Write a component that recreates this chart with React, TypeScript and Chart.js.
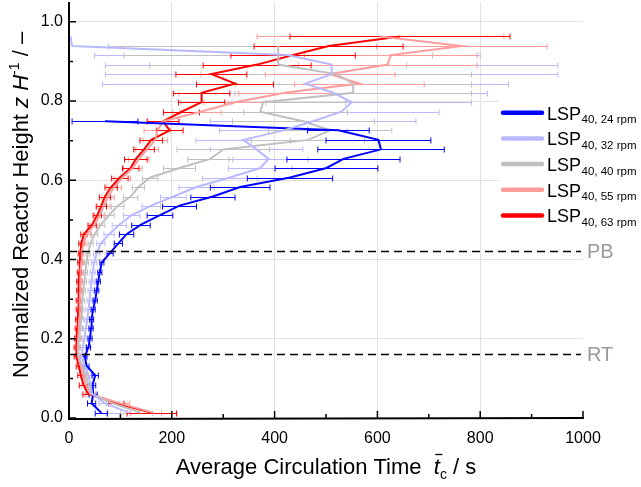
import React, { useEffect, useRef } from 'react';
import { Chart, registerables } from 'chart.js';

Chart.register(...registerables);

const FONT = "'Liberation Sans', Arial, Helvetica, sans-serif";

// Normalized reactor height bins (z H^-1)
const HEIGHTS = [
  0.013, 0.037, 0.061, 0.084, 0.108, 0.132, 0.156, 0.179, 0.203, 0.227,
  0.251, 0.274, 0.298, 0.322, 0.346, 0.369, 0.393, 0.417, 0.441, 0.464,
  0.488, 0.512, 0.536, 0.559, 0.583, 0.607, 0.631, 0.654, 0.678, 0.702,
  0.726, 0.749, 0.773, 0.797, 0.821, 0.844, 0.868, 0.892, 0.916, 0.939, 0.963,
];

const SERIES_SUBSCRIPTS = ['40, 24 rpm', '40, 32 rpm', '40, 40 rpm', '40, 55 rpm', '40, 63 rpm'];

// Average circulation time [s] and error (half width) per height bin
const TIME_24 = [63, 44, 47, 46, 51, 34, 31, 38, 41, 43, 44, 47, 51, 54, 57, 60, 64, 80, 96, 112, 140, 177, 215, 280, 333, 430, 501, 534, 607, 602, 524, 70];
const ERR_24 = [12, 8, 8, 6, 6, 5, 4, 4, 4, 4, 4, 4, 4, 4, 4, 4, 4, 6, 8, 14, 18, 25, 33, 43, 58, 83, 100, 110, 123, 102, 60, 64];

const TIME_32 = [118, 70, 45, 42, 38, 30, 25, 27, 30, 33, 36, 38, 40, 42, 44, 46, 49, 54, 62, 78, 98, 122, 160, 203, 248, 313, 372, 388, 365, 339, 417, 475, 530, 550, 514, 460, 511, 511, 425, 6, 3];
const ERR_32 = [45, 12, 6, 6, 6, 6, 5, 5, 5, 5, 5, 5, 5, 5, 5, 5, 5, 6, 8, 10, 14, 16, 18, 25, 34, 53, 62, 77, 90, 92, 124, 200, 190, 233, 300, 395, 440, 440, 375, 0, 0];

const TIME_40 = [140, 85, 43, 38, 32, 26, 18, 18, 20, 22, 24, 25, 26, 28, 30, 32, 34, 37, 42, 50, 62, 78, 95, 120, 135, 158, 215, 275, 300, 465, 508, 456, 372, 378, 553, 553, 520, 407, 407, 407];
const ERR_40 = [40, 12, 8, 6, 5, 5, 4, 4, 4, 4, 4, 4, 4, 4, 4, 4, 4, 4, 5, 6, 8, 10, 12, 14, 12, 15, 31, 44, 90, 110, 120, 138, 170, 160, 230, 230, 263, 250, 300, 330];

const TIME_55 = [165, 100, 42, 33, 28, 23, 18, 17, 18, 19, 20, 21, 21, 22, 22, 23, 24, 25, 28, 35, 50, 60, 68, 76, 88, 104, 124, 136, 152, 168, 172, 183, 256, 323, 420, 565, 508, 620, 626, 764, 606];
const ERR_55 = [45, 18, 10, 8, 6, 5, 4, 4, 4, 4, 4, 4, 4, 4, 4, 4, 4, 4, 5, 7, 9, 10, 12, 12, 14, 16, 18, 20, 22, 24, 26, 30, 40, 60, 90, 126, 126, 174, 168, 166, 240];

const TIME_63 = [161, 92, 37, 28, 23, 19, 14, 14, 15, 16, 17, 18, 18, 19, 19, 20, 21, 22, 24, 29, 45, 55, 63, 70, 82, 99, 120, 130, 146, 160, 196, 183, 219, 258, 258, 323, 277, 366, 436, 505, 644];
const ERR_63 = [48, 15, 10, 8, 6, 5, 4, 4, 4, 4, 4, 4, 4, 4, 4, 4, 4, 4, 5, 6, 8, 8, 10, 11, 12, 16, 16, 22, 20, 22, 26, 31, 35, 45, 55, 75, 69, 105, 121, 145, 214];

const PB_LEVEL = 0.42;
const RT_LEVEL = 0.16;

const COLORS = ['#0000ff', '#b9b9ff', '#c0c0c0', '#ff9c9c', '#ff0000'];
const DRAW_ORDER = [1, 0, 2, 3, 4];

function toPoints(times: number[], errs: number[]) {
  return times.map((t, i) => ({ x: t, y: HEIGHTS[i], e: errs[i] }));
}

const errorBarPlugin = {
  id: 'errorBars',
  beforeDatasetsDraw(chart: any) {
    const { ctx, chartArea, scales } = chart;
    const xs = scales.x;
    const ys = scales.y;
    ctx.save();
    ctx.beginPath();
    ctx.rect(chartArea.left, chartArea.top, chartArea.right - chartArea.left, chartArea.bottom - chartArea.top);
    ctx.clip();
    const order = [1, 2, 3, 0, 4];
    for (const di of order) {
      const ds = chart.data.datasets[di];
      ctx.strokeStyle = ds.borderColor;
      ctx.lineWidth = 1;
      for (const p of ds.data) {
        if (!p.e) continue;
        const x0 = xs.getPixelForValue(p.x - p.e);
        const x1 = xs.getPixelForValue(p.x + p.e);
        const py = Math.round(ys.getPixelForValue(p.y)) + 0.5;
        ctx.beginPath();
        ctx.moveTo(x0, py);
        ctx.lineTo(x1, py);
        ctx.moveTo(x0, py - 3);
        ctx.lineTo(x0, py + 3);
        ctx.moveTo(x1, py - 3);
        ctx.lineTo(x1, py + 3);
        ctx.stroke();
      }
    }
    ctx.restore();
  },
};

type Run = { t: string; font: string; dy?: number; over?: boolean };

function drawRuns(ctx: CanvasRenderingContext2D, runs: Run[], cx: number, baseline: number) {
  let w = 0;
  for (const r of runs) {
    ctx.font = r.font;
    w += ctx.measureText(r.t).width;
  }
  let x = cx - w / 2;
  ctx.textAlign = 'left';
  ctx.textBaseline = 'alphabetic';
  for (const r of runs) {
    ctx.font = r.font;
    ctx.fillText(r.t, x, baseline + (r.dy || 0));
    const rw = ctx.measureText(r.t).width;
    if (r.over) {
      ctx.save();
      ctx.lineWidth = 1.3;
      ctx.strokeStyle = '#000';
      ctx.beginPath();
      ctx.moveTo(x + 1.5, baseline - 19.5);
      ctx.lineTo(x + rw + 2.5, baseline - 19.5);
      ctx.stroke();
      ctx.restore();
    }
    x += rw;
  }
}

const decorPlugin = {
  id: 'decor',
  afterDatasetsDraw(chart: any) {
    const { ctx, chartArea, scales } = chart;
    const ys = scales.y;
    ctx.save();
    ctx.strokeStyle = '#000';
    ctx.lineWidth = 1.5;
    ctx.setLineDash([8, 5]);
    for (const lv of [PB_LEVEL, RT_LEVEL]) {
      const py = ys.getPixelForValue(lv);
      ctx.beginPath();
      ctx.moveTo(chartArea.left, py);
      ctx.lineTo(chartArea.right - 2, py);
      ctx.stroke();
    }
    ctx.setLineDash([]);
    ctx.fillStyle = '#999999';
    ctx.font = `20px ${FONT}`;
    ctx.textAlign = 'left';
    ctx.textBaseline = 'middle';
    ctx.fillText('PB', chartArea.right + 4, ys.getPixelForValue(PB_LEVEL) + 1);
    ctx.fillText('RT', chartArea.right + 4, ys.getPixelForValue(RT_LEVEL) + 1);
    ctx.restore();
  },
  afterDraw(chart: any) {
    const { ctx, chartArea, scales } = chart;
    const xs = scales.x;
    const ys = scales.y;
    ctx.save();
    // axes
    ctx.strokeStyle = '#000';
    ctx.lineWidth = 2;
    ctx.beginPath();
    ctx.moveTo(chartArea.left, chartArea.top);
    ctx.lineTo(chartArea.left, chartArea.bottom + 1);
    ctx.lineTo(chartArea.right + 1, chartArea.bottom);
    ctx.stroke();
    // inward ticks
    ctx.lineWidth = 1.5;
    ctx.beginPath();
    for (let i = 0; i <= 10; i++) {
      const v = i * 100;
      const px = xs.getPixelForValue(v);
      const len = i % 2 === 0 ? 7 : 4;
      ctx.moveTo(px, chartArea.bottom);
      ctx.lineTo(px, chartArea.bottom - len);
    }
    for (let i = 0; i <= 10; i++) {
      const v = i / 10;
      const py = ys.getPixelForValue(v);
      const len = i % 2 === 0 ? 7 : 4;
      ctx.moveTo(chartArea.left, py);
      ctx.lineTo(chartArea.left + len, py);
    }
    ctx.stroke();

    // legend
    ctx.fillStyle = '#ffffff';
    ctx.fillRect(499, 98, chartArea.right - 499 + 2, 130);
    for (let i = 0; i < 5; i++) {
      const yc = 112.7 + i * 25.7;
      ctx.strokeStyle = COLORS[i];
      ctx.lineWidth = 4.5;
      ctx.lineCap = 'round';
      ctx.beginPath();
      ctx.moveTo(503, yc);
      ctx.lineTo(542, yc);
      ctx.stroke();
      ctx.fillStyle = '#000';
      ctx.textAlign = 'left';
      ctx.textBaseline = 'alphabetic';
      ctx.font = `18px ${FONT}`;
      ctx.fillText('LSP', 547, yc + 6.8);
      const w = ctx.measureText('LSP').width;
      ctx.font = `11.5px ${FONT}`;
      ctx.fillText(SERIES_SUBSCRIPTS[i], 547 + w + 0.5, yc + 10.5);
    }
    ctx.lineCap = 'butt';

    // axis titles
    ctx.fillStyle = '#000';
    drawRuns(ctx, [
      { t: 'Average Circulation Time  ', font: `22px ${FONT}` },
      { t: 't', font: `italic 22px ${FONT}`, over: true },
      { t: 'c', font: `14px ${FONT}`, dy: 5 },
      { t: ' / s', font: `22px ${FONT}` },
    ], (chartArea.left + chartArea.right) / 2, 474);

    ctx.save();
    ctx.translate(28, 205);
    ctx.rotate(-Math.PI / 2);
    drawRuns(ctx, [
      { t: 'Normalized Reactor Height ', font: `22px ${FONT}` },
      { t: 'z', font: `italic 22px ${FONT}` },
      { t: ' ', font: `22px ${FONT}` },
      { t: 'H', font: `italic 22px ${FONT}` },
      { t: '-1', font: `14px ${FONT}`, dy: -9 },
      { t: ' / \u2013', font: `22px ${FONT}` },
    ], 0, 0);
    ctx.restore();
    ctx.restore();
  },
};

export default function App() {
  const ref = useRef<HTMLCanvasElement | null>(null);

  useEffect(() => {
    if (!ref.current) return;
    const series = [
      [TIME_24, ERR_24],
      [TIME_32, ERR_32],
      [TIME_40, ERR_40],
      [TIME_55, ERR_55],
      [TIME_63, ERR_63],
    ];
    const datasets = series.map(([t, e], i) => ({
      label: 'LSP' + SERIES_SUBSCRIPTS[i],
      data: toPoints(t as number[], e as number[]),
      borderColor: COLORS[i],
      backgroundColor: COLORS[i],
      borderWidth: 2,
      pointRadius: 0,
      pointHoverRadius: 0,
      showLine: true,
      tension: 0,
      fill: false,
      order: DRAW_ORDER[i],
    }));

    const chart = new Chart(ref.current, {
      type: 'scatter',
      data: { datasets } as any,
      plugins: [errorBarPlugin, decorPlugin],
      options: {
        animation: false,
        responsive: true,
        maintainAspectRatio: false,
        events: [],
        layout: { padding: { left: 0, right: 58, top: 2, bottom: 0 } },
        plugins: {
          legend: { display: false },
          tooltip: { enabled: false },
          title: { display: false },
        },
        scales: {
          x: {
            type: 'linear',
            min: 0,
            max: 1000,
            afterFit: (axis: any) => {
              axis.height = 69;
              axis.paddingLeft = 0;
              axis.paddingRight = 0;
            },
            border: { display: false },
            grid: {
              drawTicks: false,
              lineWidth: 1,
              color: (c: any) => (c.tick && (c.tick.value === 0 || c.tick.value === 1000) ? 'rgba(0,0,0,0)' : '#e2e2e2'),
            },
            ticks: {
              stepSize: 200,
              padding: 11,
              color: '#000',
              font: { family: FONT, size: 16 },
              maxRotation: 0,
              callback: (v: any) => String(v),
            },
          },
          y: {
            type: 'linear',
            min: 0,
            max: 1.05,
            afterFit: (axis: any) => {
              axis.width = 69;
              axis.paddingTop = 0;
              axis.paddingBottom = 0;
            },
            border: { display: false },
            grid: {
              drawTicks: false,
              lineWidth: 1,
              color: (c: any) => (c.tick && c.tick.value === 0 ? 'rgba(0,0,0,0)' : '#e2e2e2'),
            },
            ticks: {
              stepSize: 0.2,
              includeBounds: false,
              padding: 6,
              color: '#000',
              font: { family: FONT, size: 16 },
              callback: (v: any) => Number(v).toFixed(1),
            },
          },
        },
      } as any,
    });
    return () => chart.destroy();
  }, []);

  return (
    <div style={{ position: 'fixed', left: 0, top: 0, width: 641, height: 487, background: '#fff' }}>
      <canvas ref={ref} />
    </div>
  );
}
